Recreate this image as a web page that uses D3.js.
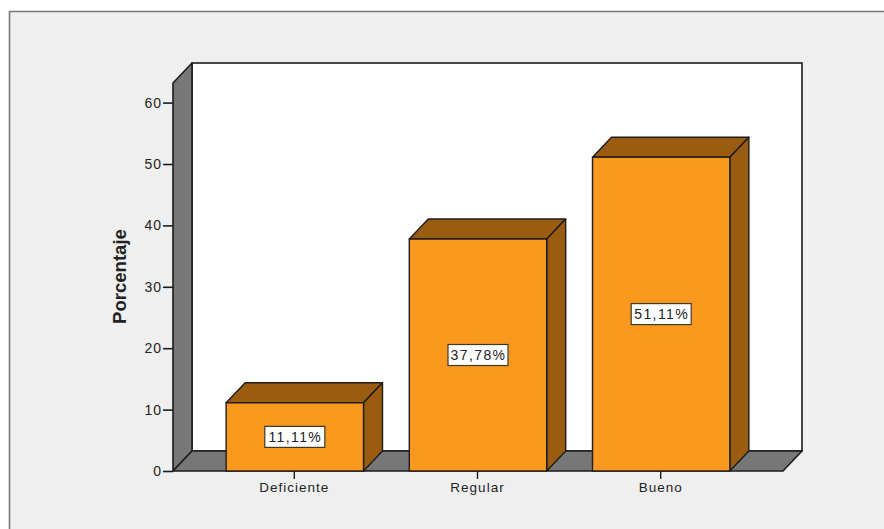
<!DOCTYPE html>
<html>
<head>
<meta charset="utf-8">
<script src="https://cdn.jsdelivr.net/npm/d3@7"></script>
<style>
  html, body { margin: 0; padding: 0; background: #fff; }
  svg { display: block; }
  text { font-family: "Liberation Sans", Arial, sans-serif; fill: #222; }
</style>
</head>
<body>
<svg id="chart" width="884" height="529"></svg>
<script>
const categories = ["Deficiente", "Regular", "Bueno"];
const percentages = [11.11, 37.78, 51.11];
const percentLabels = ["11,11%", "37,78%", "51,11%"];
const yTicks = [0, 10, 20, 30, 40, 50, 60];
const yAxisTitle = "Porcentaje";

const svg = d3.select("#chart");
const ink = "#1c1c1c";
const wallGrey = "#777777";
const barFront = "#fb991e";
const barShade = "#9a5c10";

// Oblique projection offset of the 3D box
const depthX = 19, depthY = 20;

const x = d3.scaleBand()
  .domain(categories)
  .range([173, 783])
  .paddingInner(0.25)
  .paddingOuter(0.29);

const y = d3.scaleLinear().domain([0, 60]).range([471, 102.6]);
const yTop = 83; // front edge of the side wall, above the top tick

// Panel background with its frame on the top and left only
svg.append("rect").attr("width", 884).attr("height", 529).attr("fill", "#fff");
svg.append("rect").attr("x", 9).attr("y", 11).attr("width", 875).attr("height", 518).attr("fill", "#efefef");
svg.append("path").attr("d", "M9.5,529V11.5H884").attr("fill", "none").attr("stroke", "#777").attr("stroke-width", 1.6);

const x0 = x.range()[0], x1 = x.range()[1], y0 = y(0);

// Back wall
svg.append("rect")
  .attr("x", x0 + depthX).attr("y", yTop - depthY)
  .attr("width", x1 - x0).attr("height", y0 - yTop)
  .attr("fill", "#fff").attr("stroke", ink).attr("stroke-width", 1.6);

// Left wall and floor
const poly = d3.line();
svg.append("path")
  .attr("d", poly([[x0, yTop], [x0 + depthX, yTop - depthY], [x0 + depthX, y0 - depthY], [x0, y0]]) + "Z")
  .attr("fill", wallGrey).attr("stroke", ink).attr("stroke-width", 1.6).attr("stroke-linejoin", "round");
svg.append("path")
  .attr("d", poly([[x0, y0], [x0 + depthX, y0 - depthY], [x1 + depthX, y0 - depthY], [x1, y0]]) + "Z")
  .attr("fill", wallGrey).attr("stroke", ink).attr("stroke-width", 1.6).attr("stroke-linejoin", "round");

// Bars: top, side and front faces
const bars = svg.append("g").selectAll("g")
  .data(categories.map((c, i) => ({ c, v: percentages[i], label: percentLabels[i] })))
  .join("g");

bars.append("path")
  .attr("d", d => {
    const l = x(d.c), r = l + x.bandwidth(), t = y(d.v);
    return poly([[l, t], [l + depthX, t - depthY], [r + depthX, t - depthY], [r, t]]) + "Z";
  })
  .attr("fill", barShade).attr("stroke", ink).attr("stroke-width", 1.4).attr("stroke-linejoin", "round");

bars.append("path")
  .attr("d", d => {
    const r = x(d.c) + x.bandwidth(), t = y(d.v);
    return poly([[r, t], [r + depthX, t - depthY], [r + depthX, y0 - depthY], [r, y0]]) + "Z";
  })
  .attr("fill", barShade).attr("stroke", ink).attr("stroke-width", 1.4).attr("stroke-linejoin", "round");

bars.append("rect")
  .attr("x", d => x(d.c)).attr("y", d => y(d.v))
  .attr("width", x.bandwidth()).attr("height", d => y0 - y(d.v))
  .attr("fill", barFront).attr("stroke", ink).attr("stroke-width", 1.4);

// Value labels in white boxes at mid height of each bar
const labelW = 60, labelH = 21;
bars.append("rect")
  .attr("x", d => x(d.c) + x.bandwidth() / 2 - labelW / 2)
  .attr("y", d => y(d.v / 2) - labelH / 2)
  .attr("width", labelW).attr("height", labelH)
  .attr("fill", "#fff").attr("stroke", "#3a3a2a").attr("stroke-width", 1.2);

bars.append("text")
  .attr("x", d => x(d.c) + x.bandwidth() / 2 + 0.5)
  .attr("y", d => y(d.v / 2) + 5)
  .attr("text-anchor", "middle")
  .attr("font-size", 14)
  .attr("letter-spacing", 1.4)
  .text(d => d.label);

// Value axis
const yAxis = d3.axisLeft(y).tickValues(yTicks).tickSize(10).tickPadding(1).tickFormat(d3.format("d"));
const yG = svg.append("g").attr("transform", `translate(${x0},0)`).call(yAxis);
yG.select(".domain").remove();
yG.selectAll("line").attr("stroke", ink).attr("stroke-width", 1.6);
yG.selectAll("text").attr("font-size", 14).attr("letter-spacing", 1).attr("font-family", null).style("fill", "#222");

// Category axis
const xAxis = d3.axisBottom(x).tickSize(8).tickPadding(3);
const xG = svg.append("g").attr("transform", `translate(-0.5,${y0})`).call(xAxis);
xG.select(".domain").remove();
xG.selectAll("line").attr("stroke", ink).attr("stroke-width", 1.4);
xG.selectAll("text").attr("font-size", 13.5).attr("letter-spacing", 1).attr("font-family", null).style("fill", "#222");

// Axis title
svg.append("text")
  .attr("transform", "translate(126,276.5) rotate(-90) scale(1.06,1)")
  .attr("text-anchor", "middle")
  .attr("font-size", 17.5)
  .attr("font-weight", "bold")
  .text(yAxisTitle);
</script>
</body>
</html>
